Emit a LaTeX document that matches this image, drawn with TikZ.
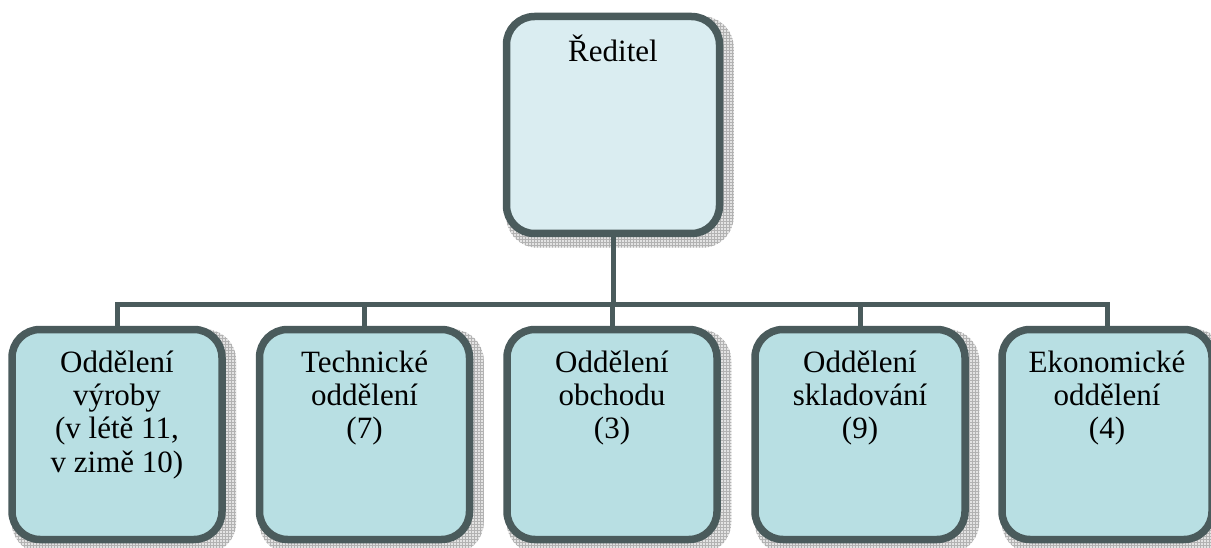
\documentclass[tikz,border=0pt]{standalone}
\usepackage{fontspec}
\setmainfont{Liberation Serif}
\newfontfamily\timesx{Liberation Serif}
\usetikzlibrary{patterns,backgrounds}
\definecolor{edgec}{HTML}{4A5B5C}
\definecolor{topfill}{HTML}{DAEDF1}
\definecolor{subfill}{HTML}{B8DFE3}
\tikzset{
  orgbox/.style={draw=edgec, line width=7.5pt, rounded corners=28pt, inner sep=0pt},
  topbox/.style={orgbox, fill=topfill, minimum width=213pt, minimum height=217pt},
  subbox/.style={orgbox, fill=subfill, minimum width=210pt, minimum height=210pt},
  shadowbase/.style={fill=gray!22, draw=gray!22, line width=7pt, rounded corners=28pt},
  shadowgrid/.style={pattern=grid, pattern color=gray!60, rounded corners=31.5pt},
  boxtext/.style={align=center, anchor=north, inner sep=0pt, font=\timesx\fontsize{31}{33.3}\selectfont},
  conn/.style={draw=edgec, line width=5pt},
}
\newcommand{\tallstrut}{\rule{0pt}{30pt}}
\begin{document}
\begin{tikzpicture}[x=1pt,y=-1pt]
\useasboundingbox (0,0) rectangle (1211,548);
\node[topbox] (top) at (613,125) {};
\node[subbox] (c1) at (117,434.5) {};
\node[subbox] (c2) at (364.5,434.5) {};
\node[subbox] (c3) at (612,434.5) {};
\node[subbox] (c4) at (860,434.5) {};
\node[subbox] (c5) at (1107,434.5) {};

\node[boxtext] (t0) at (613,31) {\tallstrut Ředitel};
\node[boxtext] (t1) at (117,342) {\tallstrut Oddělení\\výroby\\(v létě 11,\\v zimě 10)};
\node[boxtext] (t2) at (364.5,342) {\tallstrut Technické\\oddělení\\(7)};
\node[boxtext] (t3) at (612,342) {\tallstrut Oddělení\\obchodu\\(3)};
\node[boxtext] (t4) at (860,342) {\tallstrut Oddělení\\skladování\\(9)};
\node[boxtext] (t5) at (1107,342) {\tallstrut Ekonomické\\oddělení\\(4)};

\coordinate (bus) at (612,305);
\begin{scope}[on background layer]
  \foreach \n in {top,c1,c2,c3,c4,c5}{
    \path[shadowbase] ([shift={(7,7)}]\n.north west) rectangle ([shift={(7,7)}]\n.south east);
    \path[shadowgrid] ([shift={(3.5,3.5)}]\n.north west) rectangle ([shift={(10.5,10.5)}]\n.south east);
  }
  \draw[conn] (top.south) -- (top.south |- bus);
  \draw[conn] (c1.north) -- (c1.north |- bus) -- (c5.north |- bus) -- (c5.north);
  \foreach \n in {c2,c3,c4}{
    \draw[conn] (\n.north) -- (\n.north |- bus);
  }
\end{scope}
\end{tikzpicture}
\end{document}
